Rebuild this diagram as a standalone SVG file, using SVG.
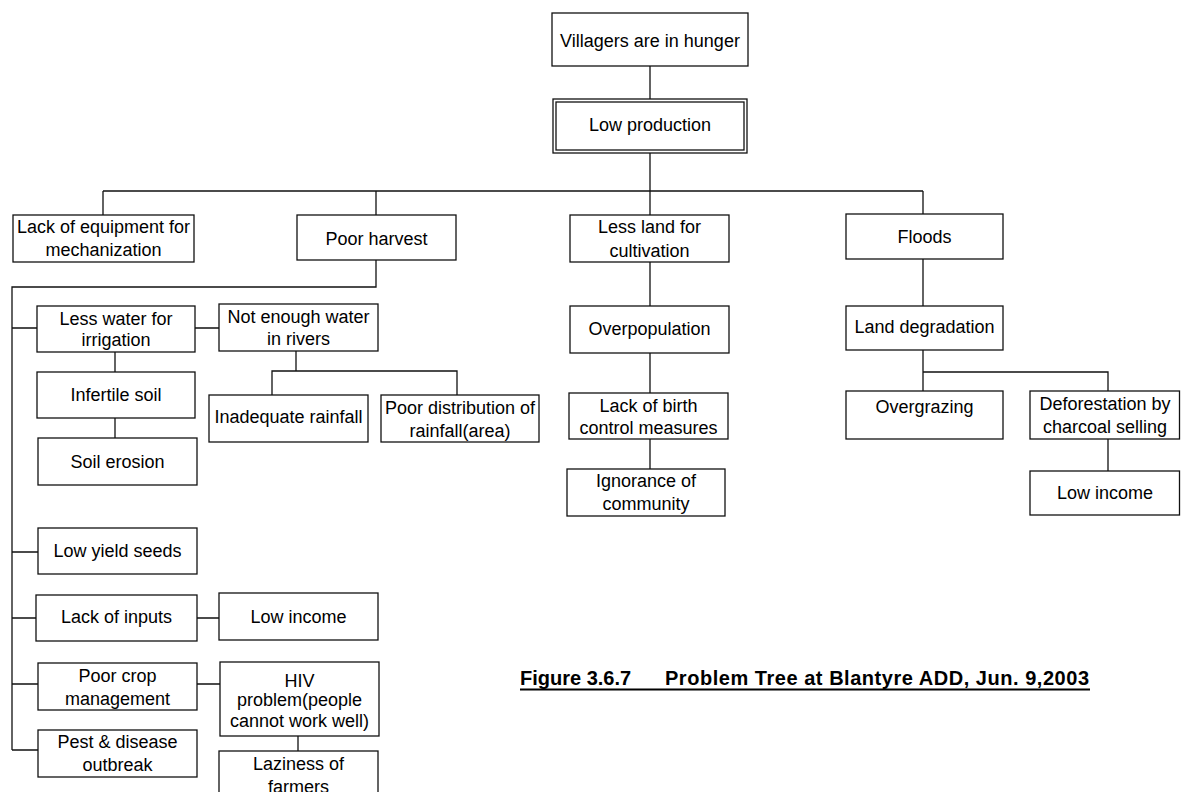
<svg xmlns="http://www.w3.org/2000/svg" width="1181" height="792" viewBox="0 0 1181 792">
<style>
.box{fill:#fff;stroke:#111;stroke-width:1.3}
.t{font-family:"Liberation Sans",Arial,sans-serif;font-size:18px;fill:#000;text-anchor:middle}
.c{fill:none;stroke:#111;stroke-width:1.3}
.title{font-family:"Liberation Sans",Arial,sans-serif;font-size:20px;font-weight:bold;fill:#000}
</style>
<rect width="1181" height="792" fill="#fff"/>
<g id="connectors">
<path class="c" d="M650,66V99 M650,153V215 M103,191H923 M103,191V215 M376,191V215 M923,191V214"/>
<path class="c" d="M376,260V287H12V750 M12,328H37 M12,552H38 M12,618H36 M12,684H38 M12,750H38"/>
<path class="c" d="M195,328H219 M115,352V372 M115,418V438 M296,351V371 M272,395V371H457V395"/>
<path class="c" d="M197,618H219 M197,684H220 M298,736V751"/>
<path class="c" d="M650,262V306 M650,353V393 M650,439V469"/>
<path class="c" d="M923,259V306 M923,350V391 M923,372H1108V391 M1108,439V471"/>
</g>
<g id="n-hunger"><rect class="box" x="552" y="13" width="196" height="53"/><text class="t" x="650" y="46.5">Villagers are in hunger</text></g>
<g id="n-lowprod"><rect class="box" x="553" y="99" width="194" height="54"/><rect class="box" x="556" y="102" width="188" height="48"/><text class="t" x="650" y="131">Low production</text></g>
<g id="n-equip"><rect class="box" x="13" y="215" width="181" height="47"/><text class="t" x="103.5" y="233">Lack of equipment for</text><text class="t" x="103.5" y="256">mechanization</text></g>
<g id="n-harvest"><rect class="box" x="297" y="215" width="159" height="45"/><text class="t" x="376.5" y="244.5">Poor harvest</text></g>
<g id="n-land"><rect class="box" x="570" y="215" width="159" height="47"/><text class="t" x="649.5" y="233">Less land for</text><text class="t" x="649.5" y="257">cultivation</text></g>
<g id="n-floods"><rect class="box" x="846" y="214" width="157" height="45"/><text class="t" x="924.5" y="243">Floods</text></g>
<g id="n-water"><rect class="box" x="37" y="306" width="158" height="46"/><text class="t" x="116" y="325">Less water for</text><text class="t" x="116" y="346">irrigation</text></g>
<g id="n-rivers"><rect class="box" x="219" y="304" width="159" height="47"/><text class="t" x="298.5" y="323">Not enough water</text><text class="t" x="298.5" y="345">in rivers</text></g>
<g id="n-infertile"><rect class="box" x="37" y="372" width="158" height="46"/><text class="t" x="116" y="400.5">Infertile soil</text></g>
<g id="n-erosion"><rect class="box" x="38" y="438" width="159" height="47"/><text class="t" x="117.5" y="467.5">Soil erosion</text></g>
<g id="n-inadequate"><rect class="box" x="209" y="395" width="159" height="47"/><text class="t" x="288.5" y="423">Inadequate rainfall</text></g>
<g id="n-distribution"><rect class="box" x="381" y="395" width="158" height="47"/><text class="t" x="460" y="414">Poor distribution of</text><text class="t" x="460" y="437">rainfall(area)</text></g>
<g id="n-overpop"><rect class="box" x="570" y="306" width="159" height="47"/><text class="t" x="649.5" y="335">Overpopulation</text></g>
<g id="n-birth"><rect class="box" x="569" y="393" width="159" height="46"/><text class="t" x="648.5" y="412">Lack of birth</text><text class="t" x="648.5" y="434">control measures</text></g>
<g id="n-ignorance"><rect class="box" x="567" y="469" width="158" height="47"/><text class="t" x="646" y="487">Ignorance of</text><text class="t" x="646" y="510">community</text></g>
<g id="n-landdeg"><rect class="box" x="846" y="306" width="157" height="44"/><text class="t" x="924.5" y="333">Land degradation</text></g>
<g id="n-overgrazing"><rect class="box" x="846" y="391" width="157" height="48"/><text class="t" x="924.5" y="413">Overgrazing</text></g>
<g id="n-deforest"><rect class="box" x="1030" y="391" width="149.5" height="48"/><text class="t" x="1105" y="410">Deforestation by</text><text class="t" x="1105" y="433">charcoal selling</text></g>
<g id="n-lowincome2"><rect class="box" x="1030" y="471" width="149.5" height="44"/><text class="t" x="1105" y="499">Low income</text></g>
<g id="n-seeds"><rect class="box" x="38" y="528" width="159" height="46"/><text class="t" x="117.5" y="556.5">Low yield seeds</text></g>
<g id="n-inputs"><rect class="box" x="36" y="595" width="161" height="46"/><text class="t" x="116.5" y="623">Lack of inputs</text></g>
<g id="n-lowincome1"><rect class="box" x="219" y="593" width="159" height="47"/><text class="t" x="298.5" y="622.5">Low income</text></g>
<g id="n-cropmgmt"><rect class="box" x="38" y="663" width="159" height="47"/><text class="t" x="117.5" y="682">Poor crop</text><text class="t" x="117.5" y="705">management</text></g>
<g id="n-hiv"><rect class="box" x="220" y="662" width="159" height="74"/><text class="t" x="299.5" y="686.5">HIV</text><text class="t" x="299.5" y="706">problem(people</text><text class="t" x="299.5" y="727">cannot work well)</text></g>
<g id="n-pest"><rect class="box" x="38" y="730" width="159" height="47"/><text class="t" x="117.5" y="748">Pest &amp; disease</text><text class="t" x="117.5" y="771">outbreak</text></g>
<g id="n-laziness"><rect class="box" x="219" y="751" width="159" height="50"/><text class="t" x="298.5" y="770">Laziness of</text><text class="t" x="298.5" y="793">farmers</text></g>
<g id="title">
<text class="title" y="685"><tspan x="520">Figure 3.6.7</tspan><tspan x="665" textLength="424" lengthAdjust="spacing">Problem Tree at Blantyre ADD, Jun. 9,2003</tspan></text>
<line x1="520" y1="689.5" x2="1090" y2="689.5" stroke="#000" stroke-width="2"/>
</g>
</svg>
